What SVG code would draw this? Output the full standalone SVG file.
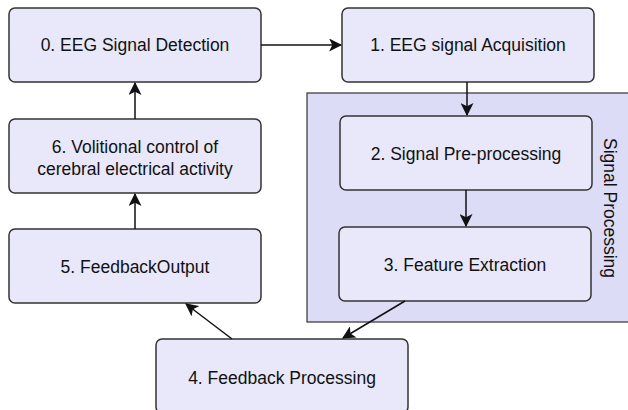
<svg xmlns="http://www.w3.org/2000/svg" width="628" height="410" viewBox="0 0 628 410">
  <defs>
    <marker id="arrow" viewBox="0 0 12 12" refX="11" refY="6" markerWidth="13" markerHeight="13" markerUnits="userSpaceOnUse" orient="auto">
      <path d="M0,0 L12,6 L0,12 L3,6 Z" fill="#111"/>
    </marker>
    <style>
      .node { fill: #e8e8fa; stroke: #333; stroke-width: 1.5; }
      .group { fill: #dcdcf6; stroke: #333; stroke-width: 1.2; }
      .label { font-family: "Liberation Sans", Arial, sans-serif; font-size: 17.5px; fill: #111; text-anchor: middle; }
      .edge { fill: none; stroke: #111; stroke-width: 1.5; marker-end: url(#arrow); }
    </style>
  </defs>
  <rect width="628" height="410" fill="#fff"/>

  <!-- Signal Processing container -->
  <g id="signal-processing">
    <rect class="group" x="307" y="93" width="330" height="229"/>
    <text class="label" transform="translate(604,208) rotate(90)">Signal Processing</text>
  </g>

  <g id="n0">
    <rect class="node" x="9" y="8" width="252" height="74" rx="6"/>
    <text class="label" x="135" y="51">0. EEG Signal Detection</text>
  </g>
  <g id="n1">
    <rect class="node" x="342" y="8" width="252" height="74" rx="6"/>
    <text class="label" x="468" y="51">1. EEG signal Acquisition</text>
  </g>
  <g id="n2">
    <rect class="node" x="340" y="116" width="252" height="74" rx="6"/>
    <text class="label" x="466" y="160">2. Signal Pre-processing</text>
  </g>
  <g id="n3">
    <rect class="node" x="339" y="227" width="252" height="74" rx="6"/>
    <text class="label" x="465" y="271">3. Feature Extraction</text>
  </g>
  <g id="n4">
    <rect class="node" x="156" y="339" width="252" height="74" rx="6"/>
    <text class="label" x="282" y="384">4. Feedback Processing</text>
  </g>
  <g id="n5">
    <rect class="node" x="9" y="229" width="252" height="74" rx="6"/>
    <text class="label" x="135" y="273">5. FeedbackOutput</text>
  </g>
  <g id="n6">
    <rect class="node" x="9" y="119" width="252" height="74" rx="6"/>
    <text class="label" x="135" y="153">6. Volitional control of</text>
    <text class="label" x="135" y="175">cerebral electrical activity</text>
  </g>

  <g id="edges">
    <line class="edge" x1="261" y1="45" x2="341" y2="45"/>
    <line class="edge" x1="467" y1="82" x2="467" y2="115"/>
    <line class="edge" x1="466" y1="190" x2="466" y2="226"/>
    <line class="edge" x1="405" y1="301" x2="343" y2="338"/>
    <line class="edge" x1="232" y1="339" x2="186" y2="304"/>
    <line class="edge" x1="135" y1="229" x2="135" y2="194"/>
    <line class="edge" x1="135" y1="119" x2="135" y2="83"/>
  </g>
</svg>
